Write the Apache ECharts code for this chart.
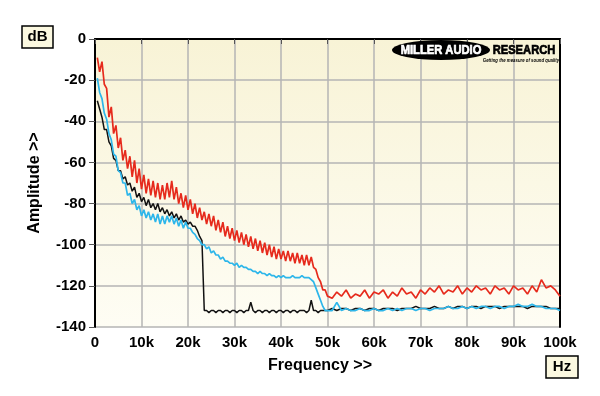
<!DOCTYPE html>
<html><head><meta charset="utf-8">
<script src="https://cdn.jsdelivr.net/npm/echarts@6/dist/echarts.min.js"></script>
<style>html,body{margin:0;padding:0;background:#fff;}#c{width:600px;height:396px;}</style>
</head><body><div id="c"></div>
<script>
// Frequency in kHz
var freqK = [0.5,1,1.5,2,2.5,3,3.5,4,4.5,5,5.5,6,6.5,7,7.5,8,8.5,9,9.5,10,
10.5,11,11.5,12,12.5,13,13.5,14,14.5,15,15.5,16,16.5,17,17.5,18,18.5,19,19.5,20,
20.5,21,21.5,22,22.5,23,23.5,24,24.5,25,25.5,26,26.5,27,27.5,28,28.5,29,29.5,30,
30.5,31,31.5,32,32.5,33,33.5,34,34.5,35,35.5,36,36.5,37,37.5,38,38.5,39,39.5,40,
40.5,41,41.5,42,42.5,43,43.5,44,44.5,45,45.5,46,46.5,47,47.5,48,48.5,49,49.5,50,
51,52,53,54,55,56,57,58,59,60,61,62,63,64,65,66,67,68,69,70,
71,72,73,74,75,76,77,78,79,80,81,82,83,84,85,86,87,88,89,90,
91,92,93,94,95,96,97,98,99,100];

var redDb = [-9,-16,-11,-22,-24,-38,-33,-46,-42,-53,-48,-59,-54,-63,-57,-67,-59,-70,-63,-73,
-66,-75,-68,-76,-69,-77,-70,-78,-71,-78,-70,-77,-69,-78,-72,-80,-75,-82,-76,-83,
-78,-85,-80,-87,-82,-88,-84,-90,-85,-91,-86,-93,-88,-94,-89,-96,-91,-97,-92,-98,
-93,-99,-94,-100,-95,-101,-96,-102,-97,-103,-98,-104,-99,-105,-100,-106,-101,-107,-102,-107,
-103,-108,-103,-108,-104,-109,-104,-109,-105,-110,-105,-110,-106,-111,-112,-116,-118,-122,-122,-125,
-126,-123,-125,-122,-126,-124,-125,-122,-126,-123,-124,-122,-126,-123,-125,-121,-124,-123,-126,-122,
-124,-121,-123,-120,-124,-122,-123,-120,-124,-121,-123,-120,-122,-121,-124,-120,-122,-121,-124,-120,
-122,-121,-124,-120,-123,-117,-121,-120,-122,-125];

var blueDb = [-19,-26,-29,-36,-39,-46,-49,-56,-57,-64,-65,-70,-70,-76,-75,-80,-78,-83,-81,-86,
-83,-87,-84,-88,-85,-89,-85,-90,-86,-90,-86,-89,-86,-90,-87,-91,-88,-92,-89,-92,
-92,-94,-95,-97,-98,-100,-100,-102,-101,-104,-103,-105,-105,-107,-106,-108,-108,-109,-109,-110,
-109,-111,-110,-111,-111,-112,-112,-113,-113,-114,-113,-114,-114,-115,-114,-115,-115,-116,-115,-116,
-115,-116,-116,-116,-115,-116,-116,-116,-115,-116,-116,-116,-117,-118,-121,-124,-127,-130,-132,-132,
-132,-128,-132,-131,-132,-132,-131,-132,-132,-131,-132,-132,-131,-132,-131,-132,-131,-131,-132,-131,
-131,-132,-131,-131,-131,-130,-131,-131,-130,-131,-130,-131,-130,-130,-131,-130,-130,-131,-130,-130,
-129,-130,-130,-129,-130,-130,-131,-131,-131,-132];

var blackDb = [-30,-34,-38,-44,-44,-50,-52,-58,-59,-64,-64,-68,-67,-71,-70,-74,-72,-77,-75,-79,
-77,-81,-78,-82,-80,-83,-80,-84,-82,-85,-83,-86,-84,-87,-85,-88,-86,-89,-88,-90,
-89,-91,-91,-93,-96,-98,-132,-132,-133,-132,-132,-133,-132,-132,-133,-132,-132,-133,-132,-132,
-133,-132,-132,-133,-132,-132,-128,-132,-133,-132,-132,-133,-132,-132,-133,-132,-132,-133,-132,-132,
-133,-132,-132,-133,-132,-132,-133,-132,-132,-132,-133,-132,-127,-132,-132,-133,-132,-132,-132,-132,
-131,-132,-131,-131,-132,-131,-131,-132,-131,-131,-132,-131,-131,-131,-132,-131,-131,-131,-130,-131,
-131,-131,-130,-131,-131,-130,-131,-130,-130,-131,-130,-130,-131,-130,-130,-130,-131,-130,-130,-130,
-130,-130,-131,-130,-130,-130,-130,-131,-131,-131];

var yTicks = [0,-20,-40,-60,-80,-100,-120,-140];
var xTickLabels = ['0','10k','20k','30k','40k','50k','60k','70k','80k','90k','100k'];

function pairs(ys){ return freqK.map(function(f,i){ return [f, ys[i]]; }); }

var FONT = '"Liberation Sans", Arial, sans-serif';
var chart = echarts.init(document.getElementById('c'), null, {renderer:'canvas'});
chart.setOption({
  backgroundColor: '#ffffff',
  animation: false,
  grid: {left: 95, right: 40, top: 39, bottom: 69, show: true, borderWidth: 0,
    backgroundColor: new echarts.graphic.LinearGradient(0,0,0,1,[
      {offset:0,color:'#F8F3D6'},{offset:1,color:'#FEFDF4'}])},
  xAxis: {type:'value', min:0, max:100, interval:10,
    axisLine:{show:true, lineStyle:{color:'#000', width:2}},
    axisTick:{show:true, length:5, lineStyle:{color:'#555', width:1}},
    axisLabel:{color:'#000', fontFamily:FONT, fontWeight:'bold', fontSize:15, margin:8,
      formatter:function(v){ return xTickLabels[Math.round(v/10)]; }},
    splitLine:{show:true, lineStyle:{color:'#B4B4B4', width:1.5}}},
  yAxis: [{type:'value', min:-140, max:0, interval:20,
    axisLine:{show:true, lineStyle:{color:'#000', width:2}},
    axisTick:{show:true, length:6, lineStyle:{color:'#555', width:1}},
    axisLabel:{color:'#000', fontFamily:FONT, fontWeight:'bold', fontSize:15, margin:9,
      formatter:function(v){ return yTicks.indexOf(v) >= 0 ? String(v) : ''; }},
    splitLine:{show:true, lineStyle:{color:'#B4B4B4', width:1.5}}},
    {type:'value', min:-140, max:0, interval:20, position:'right',
    axisLine:{show:true, lineStyle:{color:'#000', width:2}},
    axisTick:{show:false}, axisLabel:{show:false}, splitLine:{show:false}}],
  series: [
    {type:'line', data:pairs(blackDb), symbol:'none', lineStyle:{color:'#111111', width:1.5}, z:2},
    {type:'line', data:pairs(blueDb), symbol:'none', lineStyle:{color:'#2DB6EA', width:1.7}, z:3},
    {type:'line', data:pairs(redDb), symbol:'none', lineStyle:{color:'#E62A1C', width:1.7}, z:4}
  ],
  graphic: [
    {type:'rect', shape:{x:22, y:26, width:31, height:22}, style:{fill:'#FBF8E0', stroke:'#000', lineWidth:1.5}},
    {type:'text', x:37.5, y:37, style:{text:'dB', font:'bold 15px '+FONT, fill:'#000', textAlign:'center', textVerticalAlign:'middle'}},
    {type:'rect', shape:{x:546, y:356, width:32, height:22}, style:{fill:'#FBF8E0', stroke:'#000', lineWidth:1.5}},
    {type:'text', x:562, y:367, style:{text:'Hz', font:'bold 15px '+FONT, fill:'#000', textAlign:'center', textVerticalAlign:'middle'}},
    {type:'text', x:320, y:366, style:{text:'Frequency >>', font:'bold 16px '+FONT, fill:'#000', textAlign:'center', textVerticalAlign:'middle'}},
    {type:'text', x:35, y:183, rotation:Math.PI/2, style:{text:'Amplitude >>', font:'bold 16px '+FONT, fill:'#000', textAlign:'center', textVerticalAlign:'middle'}},
    {type:'circle', x:441, y:50, scaleX:4.9, scaleY:1, shape:{cx:0, cy:0, r:10}, style:{fill:'#000'}, z:10},
    {type:'text', x:441, y:50, scaleX:0.86, style:{text:'MILLER AUDIO', font:'900 13px '+FONT, fill:'#fff', stroke:'#fff', lineWidth:0.7, textAlign:'center', textVerticalAlign:'middle'}, z:11},
    {type:'text', x:524, y:50, scaleX:0.86, style:{text:'RESEARCH', font:'900 13px '+FONT, fill:'#000', stroke:'#000', lineWidth:0.7, textAlign:'center', textVerticalAlign:'middle'}, z:11},
    {type:'text', x:521, y:60, scaleX:0.72, style:{text:'Getting the measure of sound quality', font:'italic bold 6px '+FONT, fill:'#000', textAlign:'center', textVerticalAlign:'middle'}, z:11}
  ]
});
</script></body></html>
